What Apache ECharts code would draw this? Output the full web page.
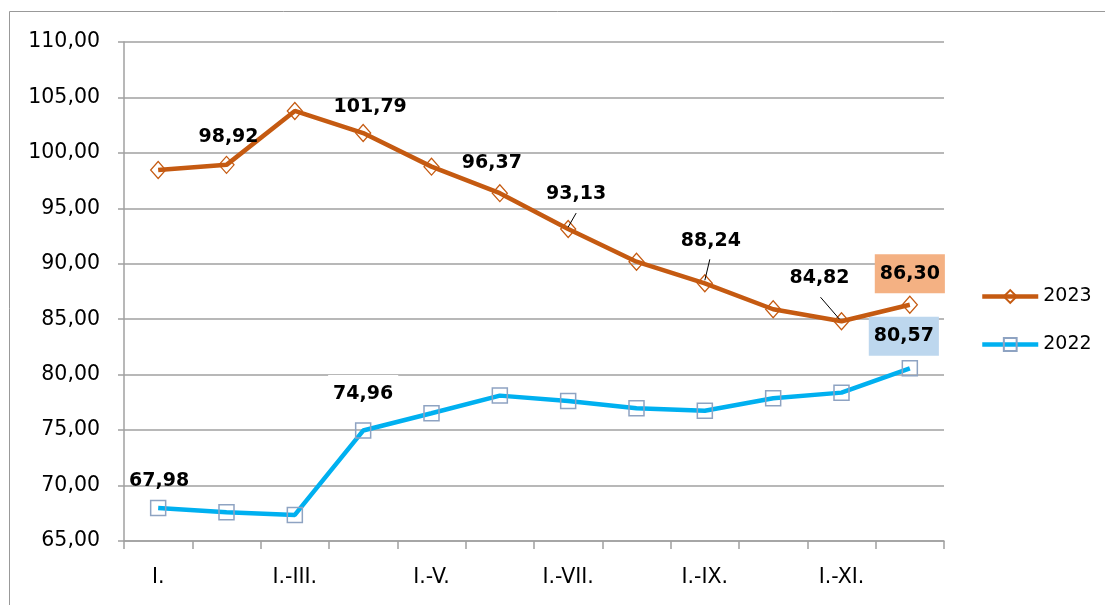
<!DOCTYPE html>
<html><head><meta charset="utf-8">
<script src="https://cdn.jsdelivr.net/npm/echarts@6/dist/echarts.min.js"></script>
<style>html,body{margin:0;padding:0;background:#fff}#c{width:1105px;height:605px}</style>
</head><body><div id="c"></div>
<script>
const categories = ['I.','I.-II.','I.-III.','I.-IV.','I.-V.','I.-VI.','I.-VII.','I.-VIII.','I.-IX.','I.-X.','I.-XI.','I.-XII.'];
const values2023 = [98.46, 98.92, 103.78, 101.79, 98.76, 96.37, 93.13, 90.19, 88.24, 85.90, 84.82, 86.30];
const values2022 = [67.98, 67.59, 67.35, 74.96, 76.52, 78.11, 77.63, 76.97, 76.75, 77.87, 78.38, 80.57];
const seriesNames = ['2023', '2022'];
const yMin = 65, yMax = 110, yStep = 5;
const labeled2023 = [1, 3, 5, 6, 8, 10, 11];
const labeled2022 = [0, 3, 11];

// label placement (pixel offsets from the point), styles
const offs2023 = {1:[2,-28], 3:[7,-26], 5:[-8,-30], 6:[8,-35], 8:[6,-42], 10:[-22,-43], 11:[0,-31]};
const offs2022 = {0:[1,-27], 3:[0,-36], 11:[-6,-32]};
// leader lines: [index, startOffset, endOffset] relative to the point
const leaders2023 = [[6, [8, -16], [0, -2]], [8, [5, -24], [0, -3]], [10, [-21, -24], [-2, -2]]];
const FONT = 'DejaVu Sans';
const fmt = v => v.toFixed(2).replace('.', ',');

function buildData(values, labeled, bgMap) {
  return values.map((v, i) => {
    const item = { value: v };
    if (labeled.indexOf(i) >= 0) {
      const lbl = { show: true };
      if (bgMap[i]) { lbl.backgroundColor = bgMap[i]; lbl.padding = [10, 5, 10, 5]; }
      item.label = lbl;
    }
    return item;
  });
}

const chart = echarts.init(document.getElementById('c'), null, { renderer: 'canvas' });
const labelBase = {
  show: false, position: 'inside', fontFamily: FONT, fontWeight: 'bold', fontSize: 19, color: '#000',
  formatter: p => fmt(p.value)
};
const option = {
  animation: false,
  backgroundColor: '#fff',
  grid: { left: 124, right: 161, top: 42, bottom: 64 },
  legend: {
    data: seriesNames, orient: 'vertical', left: 975, top: 282, itemWidth: 56, itemHeight: 16, itemGap: 29,
    lineStyle: { width: 4.5 },
    textStyle: { fontFamily: FONT, fontSize: 19, color: '#000' }
  },
  xAxis: {
    type: 'category', data: categories, boundaryGap: true,
    axisLine: { lineStyle: { color: '#A0A0A0', width: 1.5 } },
    axisTick: { show: true, interval: 0, length: 8, lineStyle: { color: '#A0A0A0', width: 1.5 } },
    axisLabel: { interval: 1, fontFamily: FONT, fontSize: 20.5, color: '#000', margin: 26 }
  },
  yAxis: {
    type: 'value', min: yMin, max: yMax, interval: yStep,
    axisLine: { show: true, lineStyle: { color: '#A0A0A0', width: 1.5 } },
    axisTick: { show: true, length: 6, lineStyle: { color: '#A0A0A0', width: 1.5 } },
    splitLine: { lineStyle: { color: '#A0A0A0', width: 1.5 } },
    axisLabel: { fontFamily: FONT, fontSize: 20.5, color: '#000', margin: 24, formatter: v => fmt(v) }
  },
  series: [
    {
      name: seriesNames[0], type: 'line', data: buildData(values2023, labeled2023, {11: '#F4B183'}),
      symbol: 'diamond', symbolSize: [15, 17], showAllSymbol: true,
      lineStyle: { color: '#C55A11', width: 4.5 },
      itemStyle: { color: 'rgba(255,255,255,0)', borderColor: '#C55A11', borderWidth: 1.3 },
      label: labelBase,
      labelLayout: p => { const o = offs2023[p.dataIndex]; return o ? { dx: o[0], dy: o[1] } : {}; },
      z: 3
    },
    {
      name: seriesNames[1], type: 'line', data: buildData(values2022, labeled2022, {3: '#fff', 11: '#BDD7EE'}),
      symbol: 'rect', symbolSize: 15, showAllSymbol: true,
      lineStyle: { color: '#00B0F0', width: 4.5 },
      itemStyle: { color: 'rgba(255,255,255,0)', borderColor: '#8EA3C2', borderWidth: 1.5 },
      label: labelBase,
      labelLayout: p => { const o = offs2022[p.dataIndex]; return o ? { dx: o[0], dy: o[1] } : {}; },
      z: 2
    }
  ]
};
chart.setOption(option);

const graphics = [{ type: 'rect', shape: { x: 9.5, y: 11.5, width: 1200, height: 700 }, style: { fill: 'none', stroke: '#999', lineWidth: 1 }, silent: true }];
leaders2023.forEach(([i, s, e]) => {
  const p = chart.convertToPixel({ seriesIndex: 0 }, [i, values2023[i]]);
  graphics.push({ type: 'line', silent: true, z: 10,
    shape: { x1: p[0] + s[0], y1: p[1] + s[1], x2: p[0] + e[0], y2: p[1] + e[1] },
    style: { stroke: '#000', lineWidth: 1 } });
});
chart.setOption({ graphic: graphics });
</script></body></html>
